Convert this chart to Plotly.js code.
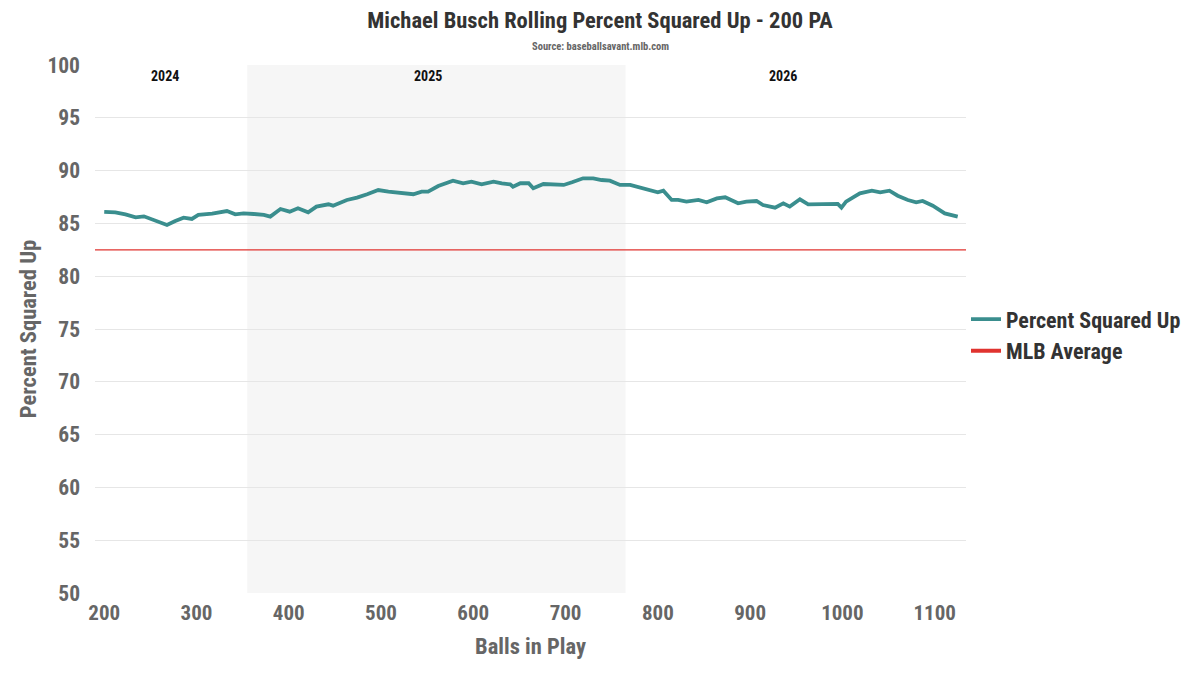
<!DOCTYPE html>
<html>
<head>
<meta charset="utf-8">
<script src="https://cdn.plot.ly/plotly-3.0.1.min.js"></script>
<style>html,body{margin:0;padding:0;background:#fff;}#chart{width:1200px;height:675px;}</style>
</head>
<body>
<div id="chart"></div>
<script>
const ballsInPlay = [200,212,223,234,243,253,268,277,286,295,302,317,333,342,351,362,373,380,391,401,410,421,430,443,448,463,474,485,497,508,515,526,535,544,551,562,571,578,589,598,609,622,631,640,643,651,660,665,676,689,698,707,719,730,739,748,759,770,781,791,800,806,815,822,831,844,853,864,873,887,896,907,914,927,936,943,954,963,979,986,995,999,1004,1013,1019,1032,1041,1051,1060,1071,1080,1087,1098,1111,1120,1125];
const pctSquaredUp = [86.1,86.05,85.86,85.58,85.67,85.32,84.85,85.23,85.54,85.42,85.8,85.92,86.17,85.86,85.95,85.89,85.8,85.64,86.36,86.11,86.43,86.05,86.59,86.81,86.68,87.22,87.44,87.76,88.16,88.0,87.94,87.85,87.76,88.0,88.0,88.54,88.8,89.05,88.8,88.95,88.7,88.95,88.8,88.7,88.48,88.8,88.8,88.33,88.73,88.73,88.64,88.89,89.27,89.27,89.11,89.05,88.64,88.64,88.39,88.23,87.94,88.1,87.22,87.22,87.06,87.22,87.0,87.37,87.47,86.9,87.06,87.12,86.74,86.49,86.9,86.59,87.28,86.81,86.84,86.84,86.84,86.49,87.06,87.53,87.85,88.1,87.94,88.1,87.62,87.22,87.0,87.12,86.68,85.95,85.8,85.64];
const mlbAverage = 82.5;
const avgX = [190, 1134];
const seasons = ['2024','2025','2026'];
const seasonLabelX = [266, 551, 936];
const season2025Range = [355, 765];
const yTicks = [50,55,60,65,70,75,80,85,90,95,100];
const xTicks = [200,300,400,500,600,700,800,900,1000,1100];

const FONT = '"Roboto Condensed", "Liberation Sans Narrow", "DejaVu Sans Condensed", Roboto, sans-serif';
const TEAL = '#3a8e8e';
const RED = '#e0332f';

const traces = [
  {x: ballsInPlay, y: pctSquaredUp, type: 'scatter', mode: 'lines', name: 'Percent Squared Up',
   line: {color: TEAL, width: 3.8}},
  {x: avgX, y: avgX.map(() => mlbAverage), type: 'scatter', mode: 'lines', name: 'MLB Average',
   line: {color: RED, width: 1.2}, showlegend: false},
  {x: [null], y: [null], type: 'scatter', mode: 'lines', name: 'MLB Average',
   line: {color: RED, width: 3.8}}
];

const annotations = seasons.map((s, i) => ({
  x: seasonLabelX[i], y: 99, xref: 'x', yref: 'y', text: '<b>' + s + '</b>', showarrow: false,
  font: {family: FONT, size: 14, color: '#111'}
}));
annotations.push({x: 505/871, y: 1 + (65 - 46) / 528, xref: 'paper', yref: 'paper', xanchor: 'center', yanchor: 'middle',
  text: '<b>Source: baseballsavant.mlb.com</b>', showarrow: false, font: {family: FONT, size: 10.5, color: '#666'}});

const layout = {
  width: 1200, height: 675,
  paper_bgcolor: '#fff', plot_bgcolor: '#fff',
  margin: {l: 95, r: 234, t: 65, b: 82},
  font: {family: FONT, color: '#666'},
  title: {text: '<b>Michael Busch Rolling Percent Squared Up - 200 PA</b>', x: 0.5, xref: 'container', y: 1 - 20/675, yref: 'container',
    yanchor: 'middle', font: {family: FONT, size: 22.5, color: '#333'}},
  xaxis: {range: [190, 1134], tickvals: xTicks, showgrid: false, zeroline: false, showline: false, ticks: '',
    ticklabelstandoff: 5,
    tickfont: {family: FONT, size: 21, color: '#666', weight: 'bold'},
    title: {text: '<b>Balls in Play</b>', font: {family: FONT, size: 22.5, color: '#666'}, standoff: 14}},
  yaxis: {range: [50, 100], tickvals: yTicks, showgrid: true, gridcolor: '#e6e6e6', gridwidth: 1, zeroline: false, ticks: '',
    ticklabelstandoff: 14,
    tickfont: {family: FONT, size: 21.5, color: '#666', weight: 'bold'},
    title: {text: '<b>Percent Squared Up</b>', font: {family: FONT, size: 22.5, color: '#666'}, standoff: 4}},
  shapes: [{type: 'rect', xref: 'x', yref: 'paper', x0: season2025Range[0], x1: season2025Range[1], y0: 0, y1: 1,
    fillcolor: '#f6f6f6', line: {width: 0}, layer: 'below'}],
  annotations: annotations,
  legend: {x: 1.0, y: 0.488, xanchor: 'left', yanchor: 'middle', font: {family: FONT, size: 22, color: '#333', weight: 'bold'},
    tracegroupgap: 0, itemwidth: 30}
};

Plotly.newPlot('chart', traces, layout, {displayModeBar: false, staticPlot: true});
</script>
</body>
</html>
